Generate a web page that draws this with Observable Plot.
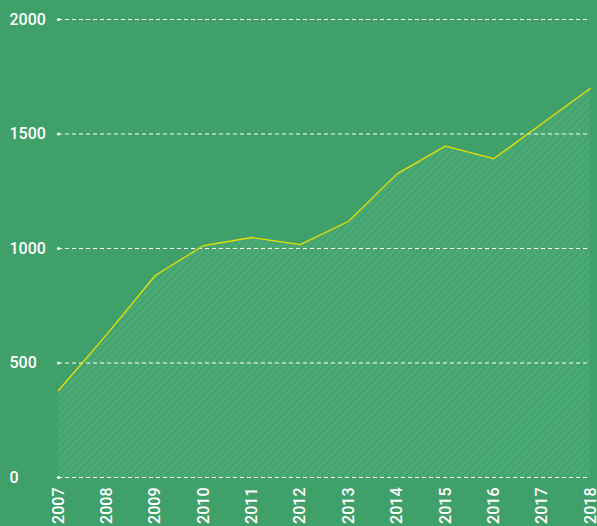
<!DOCTYPE html>
<html>
<head>
<meta charset="utf-8">
<script src="https://cdn.jsdelivr.net/npm/d3@7"></script>
<script src="https://cdn.jsdelivr.net/npm/@observablehq/plot@0.6"></script>
<style>
  html, body { margin: 0; padding: 0; background: #40a06a; overflow: hidden; }
  #chart { width: 597px; height: 526px; }
</style>
</head>
<body>
<div id="chart"></div>
<script>
const years = [2007, 2008, 2009, 2010, 2011, 2012, 2013, 2014, 2015, 2016, 2017, 2018];
const values = [380, 625, 882, 1013, 1048, 1017, 1119, 1326, 1447, 1392, 1546, 1700];
const yTicks = [0, 500, 1000, 1500, 2000];

const data = years.map((y, i) => ({year: y, value: values[i]}));

const chart = Plot.plot({
  width: 597,
  height: 526,
  marginLeft: 58,
  marginRight: 7,
  marginTop: 19,
  marginBottom: 49,
  style: {background: "#40a06a", color: "white", fontFamily: "Roboto, sans-serif", fontSize: "16px"},
  x: {domain: [2007, 2018]},
  y: {domain: [0, 2000]},
  marks: [
    Plot.areaY(data, {x: "year", y: "value", fill: "url(#hatch)"}),
    Plot.gridY(yTicks, {stroke: "white", strokeOpacity: 1, strokeWidth: 1, strokeDasharray: "4,3", x1: 2007, x2: 2018}),
    Plot.dot(yTicks, {x: 2007, y: d => d, r: 1.6, fill: "white"}),
    Plot.lineY(data, {x: "year", y: "value", stroke: "#e8e000", strokeWidth: 1.3}),
    Plot.axisY(yTicks, {tickSize: 0, tickPadding: 0, textAnchor: "start", dx: -49, dy: 0, fill: "white", fontSize: 16, fontWeight: 500, letterSpacing: "0.2px", tickFormat: d => String(d), label: null}),
    Plot.axisX(years, {tickSize: 0, tickPadding: 10, tickRotate: -90, tickFormat: d => String(d), fill: "white", fontSize: 16, fontWeight: 500, letterSpacing: "0.5px", label: null})
  ]
});

const svg = d3.select(chart);
const defs = svg.insert("defs", ":first-child");
const pat = defs.append("pattern")
  .attr("id", "hatch")
  .attr("patternUnits", "userSpaceOnUse")
  .attr("width", 5)
  .attr("height", 5)
  .attr("patternTransform", "rotate(45)");
pat.append("rect").attr("width", 5).attr("height", 5).attr("fill", "#44a46e");
pat.append("rect").attr("width", 2).attr("height", 5).attr("fill", "#4eab77");

document.getElementById("chart").appendChild(chart);
</script>
</body>
</html>
